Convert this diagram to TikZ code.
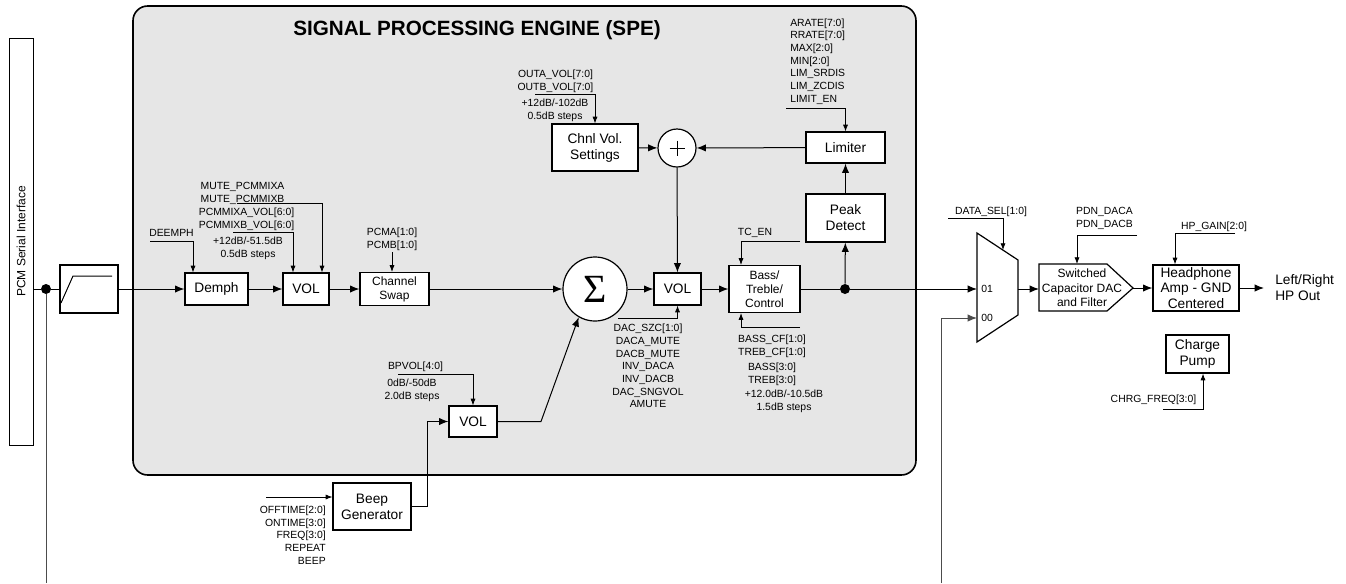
\documentclass[tikz,border=0pt]{standalone}
\usepackage{fontspec}
\setmainfont{Liberation Sans}
\newfontfamily\sigmafont{Liberation Serif}
\usepackage{tikz}
\usetikzlibrary{arrows.meta}
\definecolor{spegray}{RGB}{230,230,230}
\tikzset{
    sz/.style 2 args={minimum width={#1*0.75pt}, minimum height={#2*0.75pt}},
    blk/.style={draw, fill=white, line width=0.9pt, inner sep=0pt, align=center,
        font=\fontsize{10.3}{12}\selectfont},
    sblk/.style={blk, font=\fontsize{9}{10.5}\selectfont},
    lbl/.style={inner sep=0pt, align=center, font=\fontsize{7.8}{9.5}\selectfont},
    sig/.style={line width=0.75pt, -{Latex[length=7pt,width=5.5pt]}},
    ctl/.style={line width=0.6pt, -{Latex[length=5pt,width=3.8pt]}},
    jn/.style={circle, fill, inner sep=0pt, minimum size=7.5pt},
}

\begin{document}
\begin{tikzpicture}[x=0.75pt, y=-0.75pt]
\useasboundingbox (0,0) rectangle (1346,583);
\draw[line width=1.2pt, fill=spegray, rounded corners=11pt] (133,6) rectangle (916,475);
\node[font=\fontsize{15.5}{17}\selectfont\bfseries] (title) at (477,30) {SIGNAL PROCESSING ENGINE (SPE)};

\node[draw, line width=0.6pt, rotate=90, sz={407}{24}, inner sep=0pt,
    font=\fontsize{9}{10}\selectfont] (pcm) at (21,241.5) {PCM Serial Interface};
\node[jn] (jn1) at (46,289) {};
\node[blk, sz={58}{48}] (flt) at (89,289) {};
\draw[line width=0.75pt] ([shift={(-28,14)}]flt.center) -- ++(12,-27) -- ++(39,0);
\node[blk, sz={63}{32}] (demph) at (216.5,289) {Demph};
\node[blk, sz={46}{32}] (vol1) at (306,289) {VOL};
\node[sblk, sz={69}{33}] (swap) at (394.5,289) {Channel\\Swap};
\node[blk, circle, sz={64}{64}] (sum) at (595,289) {\sigmafont\fontsize{30}{30}\selectfont Σ};
\node[blk, sz={47}{32}] (vol2) at (677.5,289) {VOL};
\node[sblk, sz={71}{47}] (bass) at (764.5,289) {Bass/\\Treble/\\Control};
\node[jn] (jn2) at (845,289) {};
\node[blk, sz={79}{48}] (peak) at (845.5,218) {Peak\\Detect};
\node[blk, sz={79}{31}] (lim) at (845.5,147.5) {Limiter};
\node[blk, circle, sz={38}{38}, path picture={
    \draw[line width=0.6pt] (path picture bounding box.center) +(-7.5,0) -- +(7.5,0)
        (path picture bounding box.center) +(0,-7.5) -- +(0,7.5);}] (plus) at (677,148) {};
\node[blk, sz={86}{47}] (chnl) at (595,147.5) {Chnl Vol.\\Settings};
\node[blk, sz={48}{31}] (vol3) at (473,421.5) {VOL};
\node[blk, sz={78}{47}] (beep) at (372,506.5) {Beep\\Generator};

\draw[line width=0.9pt, fill=white] (977,233) -- (1018,260) -- (1018,315) -- (977,342) -- cycle;
\coordinate (mux01) at (977,289);
\coordinate (mux00) at (977,318);
\coordinate (muxsel) at (1003,250);
\coordinate (muxout) at (1018,289);
\draw[line width=0.9pt, fill=white] (1039,264) -- (1107,264) -- (1133,288) -- (1107,311) -- (1039,311) -- cycle;
\node[align=center, inner sep=0pt, font=\fontsize{9}{10.8}\selectfont] (dac) at (1082,288) {Switched\\Capacitor DAC\\and Filter};
\coordinate (dacin) at (1039,289);
\coordinate (dactip) at (1133,288);
\coordinate (dactop) at (1077,264);
\node[blk, sz={86}{46}, font=\fontsize{10.3}{11.6}\selectfont] (hp) at (1196,288) {Headphone\\Amp - GND\\Centered};
\node[blk, sz={63}{38}] (chg) at (1197.5,354) {Charge\\Pump};
\node[align=left, anchor=west, inner sep=0pt, font=\fontsize{10.3}{12}\selectfont] (lOut) at (1275,288) {Left/Right\\HP Out};

\node[lbl] (lDeemph) at (171.5,233) {DEEMPH};
\node[lbl] (lMute) at (242.5,193.5) {MUTE\_PCMMIXA\\MUTE\_PCMMIXB};
\node[lbl] (lPcmVol) at (246.5,219.5) {PCMMIXA\_VOL[6:0]\\PCMMIXB\_VOL[6:0]};
\node[lbl] (lVolRange) at (248,248) {+12dB/-51.5dB\\0.5dB steps};
\node[lbl] (lPcm) at (392,239) {PCMA[1:0]\\PCMB[1:0]};
\node[lbl] (lOutVol) at (555.5,81) {OUTA\_VOL[7:0]\\OUTB\_VOL[7:0]};
\node[lbl] (lOutRange) at (555,110) {+12dB/-102dB\\0.5dB steps};
\node[lbl, align=left, anchor=west] (lLim) at (790,61.5) {ARATE[7:0]\\RRATE[7:0]\\MAX[2:0]\\MIN[2:0]\\LIM\_SRDIS\\LIM\_ZCDIS\\LIMIT\_EN};
\node[lbl] (lTc) at (755,233) {TC\_EN};
\node[lbl] (lBassCf) at (772,346.5) {BASS\_CF[1:0]\\TREB\_CF[1:0]};
\node[lbl] (lBass) at (772,374.5) {BASS[3:0]\\TREB[3:0]};
\node[lbl] (lBassRange) at (784,401) {+12.0dB/-10.5dB\\1.5dB steps};
\node[lbl] (lDac) at (648,366) {DAC\_SZC[1:0]\\DACA\_MUTE\\DACB\_MUTE\\INV\_DACA\\INV\_DACB\\DAC\_SNGVOL\\AMUTE};
\node[lbl] (lBp) at (415.5,367) {BPVOL[4:0]};
\node[lbl] (lBpRange) at (412,390) {0dB/-50dB\\2.0dB steps};
\node[lbl, align=right, anchor=east] (lBeep) at (326,535) {OFFTIME[2:0]\\ONTIME[3:0]\\FREQ[3:0]\\REPEAT\\BEEP};
\node[lbl] (lSel) at (991,212) {DATA\_SEL[1:0]};
\node[lbl] (lPdn) at (1104.5,218.5) {PDN\_DACA\\PDN\_DACB};
\node[lbl] (lGain) at (1214,227) {HP\_GAIN[2:0]};
\node[lbl] (lChg) at (1153.5,400) {CHRG\_FREQ[3:0]};
\node[lbl, anchor=west] (l01) at (981,289) {01};
\node[lbl, anchor=west] (l00) at (981,318) {00};

\coordinate (cDeemph) at (150,241);
\coordinate (cMute) at (237,203);
\coordinate (cPcmVol) at (233,232);
\coordinate (cPcm) at (392,252);
\coordinate (cOutVol) at (535,94);
\coordinate (cLim) at (786,108);
\coordinate (cTc) at (800,241);
\coordinate (cTone) at (800,327);
\coordinate (cDac) at (618,318);
\coordinate (cBp) at (398,374);
\coordinate (cBeep) at (266,497);
\coordinate (cSel) at (948,218);
\coordinate (cPdn) at (1137,235);
\coordinate (cGain) at (1235,233);
\coordinate (cChg) at (1163,409);
\coordinate (bot1) at (46,583);
\coordinate (bot2) at (941,583);
\coordinate (bend) at (541,421.5);
\coordinate (hpOut) at (1264,288);

\draw[line width=0.75pt] (pcm.south |- jn1) -- (jn1) -- (flt);
\draw[line width=0.75pt, black!70] (jn1) -- (bot1);
\draw[sig] (flt) -- (demph);
\draw[sig] (demph) -- (vol1);
\draw[sig] (vol1) -- (swap);
\draw[sig] (swap) -- (sum);
\draw[sig] (sum) -- (vol2);
\draw[sig] (vol2) -- (bass);
\draw[line width=0.75pt] (bass) -- (jn2);
\draw[sig] (jn2) -- (mux01);
\draw[sig] (jn2) -- (peak);
\draw[sig] (peak) -- (lim);
\draw[sig] (lim) -- (plus);
\draw[sig] (chnl) -- (plus);
\draw[sig] (plus) -- (vol2);
\draw[sig] (vol3) -- (bend) -- (sum.-120);
\draw[sig] (beep.east) -- ++(16,0) |- (vol3.west);
\draw[sig, black!70] (bot2) |- (mux00);
\draw[sig] (muxout) -- (dacin);
\draw[sig] (dactip) -- (hp.west |- dactip);
\draw[sig] (hp) -- (hpOut);

\draw[ctl] (cDeemph) -| (193,0 |- demph.north);
\draw[ctl] (cMute) -| (322,0 |- vol1.north);
\draw[ctl] (cPcmVol) -| (293,0 |- vol1.north);
\draw[ctl] (cPcm) -- (cPcm |- swap.north);
\draw[ctl] (cOutVol) -| (chnl.north);
\draw[ctl] (cLim) -| (lim.north);
\draw[ctl] (cTc) -| (741,0 |- bass.north);
\draw[ctl] (cTone) -| (741,0 |- bass.south);
\draw[ctl] (cDac) -| (vol2.south);
\draw[ctl] (cBp) -| (vol3.north);
\draw[ctl] (cBeep) -- (cBeep -| beep.west);
\draw[ctl] (cSel) -| (muxsel);
\draw[ctl] (cPdn) -| (dactop);
\draw[ctl] (cGain) -| (1175,0 |- hp.north);
\draw[ctl] (cChg) -| (1203,0 |- chg.south);
\end{tikzpicture}
\end{document}
